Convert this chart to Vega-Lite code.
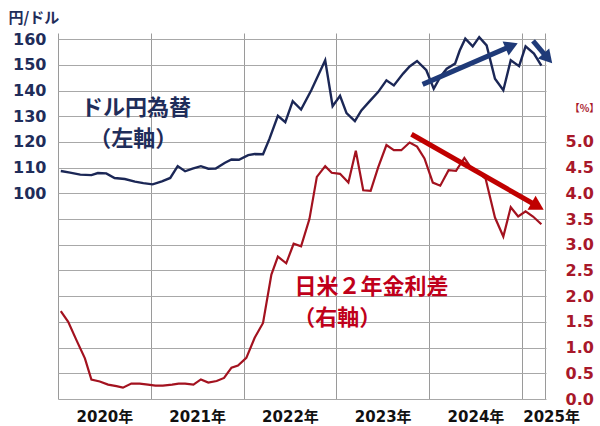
{
  "$schema": "https://vega.github.io/schema/vega-lite/v6.json",
  "width": 488,
  "height": 366,
  "autosize": "none",
  "padding": {"left": 58, "top": 33, "right": 54, "bottom": 27},
  "background": "white",
  "config": {"view": {"stroke": null}, "font": "DejaVu Sans"},
  "datasets": {
    "fx": [
      {"t": 2020.03, "yen": 108.7}, {"t": 2020.13, "yen": 108.1}, {"t": 2020.24, "yen": 107.3}, {"t": 2020.36, "yen": 107.1},
      {"t": 2020.43, "yen": 107.9}, {"t": 2020.52, "yen": 107.8}, {"t": 2020.61, "yen": 106.0}, {"t": 2020.72, "yen": 105.6},
      {"t": 2020.83, "yen": 104.6}, {"t": 2020.92, "yen": 104.0}, {"t": 2021.02, "yen": 103.5}, {"t": 2021.12, "yen": 104.7},
      {"t": 2021.21, "yen": 106.0}, {"t": 2021.29, "yen": 110.6}, {"t": 2021.37, "yen": 108.6}, {"t": 2021.45, "yen": 109.6},
      {"t": 2021.54, "yen": 110.6}, {"t": 2021.62, "yen": 109.6}, {"t": 2021.70, "yen": 109.7}, {"t": 2021.80, "yen": 111.9},
      {"t": 2021.87, "yen": 113.2}, {"t": 2021.95, "yen": 113.1}, {"t": 2022.05, "yen": 114.9}, {"t": 2022.12, "yen": 115.3},
      {"t": 2022.21, "yen": 115.2}, {"t": 2022.28, "yen": 121.3}, {"t": 2022.37, "yen": 130.2}, {"t": 2022.45, "yen": 127.7},
      {"t": 2022.53, "yen": 135.9}, {"t": 2022.62, "yen": 132.6}, {"t": 2022.73, "yen": 140.1}, {"t": 2022.88, "yen": 151.8},
      {"t": 2022.96, "yen": 133.9}, {"t": 2023.04, "yen": 138.0}, {"t": 2023.11, "yen": 131.2}, {"t": 2023.20, "yen": 128.1},
      {"t": 2023.27, "yen": 132.3}, {"t": 2023.36, "yen": 135.9}, {"t": 2023.45, "yen": 139.4}, {"t": 2023.54, "yen": 144.0},
      {"t": 2023.62, "yen": 142.0}, {"t": 2023.72, "yen": 146.6}, {"t": 2023.79, "yen": 149.4}, {"t": 2023.87, "yen": 151.5},
      {"t": 2023.97, "yen": 147.9}, {"t": 2024.05, "yen": 140.7}, {"t": 2024.12, "yen": 145.3}, {"t": 2024.19, "yen": 148.5},
      {"t": 2024.28, "yen": 150.5}, {"t": 2024.33, "yen": 155.6}, {"t": 2024.39, "yen": 160.2}, {"t": 2024.47, "yen": 157.2},
      {"t": 2024.54, "yen": 160.8}, {"t": 2024.62, "yen": 157.6}, {"t": 2024.71, "yen": 144.6}, {"t": 2024.80, "yen": 140.1},
      {"t": 2024.88, "yen": 151.8}, {"t": 2024.97, "yen": 149.5}, {"t": 2025.04, "yen": 157.2}, {"t": 2025.13, "yen": 154.4},
      {"t": 2025.21, "yen": 149.7}
    ],
    "spread": [
      {"t": 2020.03, "pct": 1.71}, {"t": 2020.11, "pct": 1.50}, {"t": 2020.20, "pct": 1.14}, {"t": 2020.29, "pct": 0.79},
      {"t": 2020.36, "pct": 0.38}, {"t": 2020.45, "pct": 0.34}, {"t": 2020.54, "pct": 0.28}, {"t": 2020.63, "pct": 0.25},
      {"t": 2020.70, "pct": 0.22}, {"t": 2020.79, "pct": 0.30}, {"t": 2020.88, "pct": 0.30}, {"t": 2020.97, "pct": 0.28},
      {"t": 2021.05, "pct": 0.26}, {"t": 2021.13, "pct": 0.26}, {"t": 2021.23, "pct": 0.28}, {"t": 2021.30, "pct": 0.30},
      {"t": 2021.37, "pct": 0.30}, {"t": 2021.46, "pct": 0.28}, {"t": 2021.54, "pct": 0.38}, {"t": 2021.62, "pct": 0.32},
      {"t": 2021.71, "pct": 0.35}, {"t": 2021.79, "pct": 0.41}, {"t": 2021.87, "pct": 0.61}, {"t": 2021.94, "pct": 0.65},
      {"t": 2022.03, "pct": 0.80}, {"t": 2022.12, "pct": 1.19}, {"t": 2022.21, "pct": 1.48}, {"t": 2022.30, "pct": 2.42},
      {"t": 2022.37, "pct": 2.77}, {"t": 2022.46, "pct": 2.64}, {"t": 2022.54, "pct": 3.02}, {"t": 2022.62, "pct": 2.97},
      {"t": 2022.71, "pct": 3.50}, {"t": 2022.79, "pct": 4.32}, {"t": 2022.88, "pct": 4.53}, {"t": 2022.95, "pct": 4.40},
      {"t": 2023.04, "pct": 4.38}, {"t": 2023.13, "pct": 4.21}, {"t": 2023.21, "pct": 4.83}, {"t": 2023.29, "pct": 4.06},
      {"t": 2023.37, "pct": 4.05}, {"t": 2023.45, "pct": 4.50}, {"t": 2023.54, "pct": 4.94}, {"t": 2023.62, "pct": 4.84},
      {"t": 2023.70, "pct": 4.84}, {"t": 2023.79, "pct": 4.99}, {"t": 2023.87, "pct": 4.91}, {"t": 2023.95, "pct": 4.68},
      {"t": 2024.04, "pct": 4.21}, {"t": 2024.12, "pct": 4.15}, {"t": 2024.21, "pct": 4.45}, {"t": 2024.29, "pct": 4.44},
      {"t": 2024.38, "pct": 4.69}, {"t": 2024.44, "pct": 4.53}, {"t": 2024.51, "pct": 4.44}, {"t": 2024.61, "pct": 4.28},
      {"t": 2024.71, "pct": 3.53}, {"t": 2024.80, "pct": 3.16}, {"t": 2024.88, "pct": 3.73}, {"t": 2024.96, "pct": 3.55},
      {"t": 2025.04, "pct": 3.65}, {"t": 2025.12, "pct": 3.55}, {"t": 2025.21, "pct": 3.40}
    ],
    "fxArrowShafts": [
      {"id": "b1", "t": 2023.93, "yen": 142.4}, {"id": "b1", "t": 2024.89, "yen": 157.4},
      {"id": "b2", "t": 2025.12, "yen": 159.3}, {"id": "b2", "t": 2025.28, "yen": 152.5}
    ],
    "fxArrowHeads": [
      {"id": "b1", "t": 2024.89, "yen": 157.4},
      {"id": "b2", "t": 2025.28, "yen": 152.5}
    ],
    "spArrowShafts": [
      {"id": "r1", "t": 2023.81, "pct": 5.15}, {"id": "r1", "t": 2025.17, "pct": 3.75}
    ],
    "spArrowHeads": [
      {"id": "r1", "t": 2025.17, "pct": 3.75}
    ],
    "fxLabels": [
      {"t": 2020.84, "yen": 133.1, "text": "ドル円為替"},
      {"t": 2020.81, "yen": 121.3, "text": "（左軸）"}
    ],
    "spLabels": [
      {"t": 2023.378, "pct": 2.17, "text": "日米２年金利差"},
      {"t": 2023.01, "pct": 1.57, "text": "（右軸）"}
    ]
  },
  "encoding": {
    "x": {
      "field": "t", "type": "quantitative",
      "scale": {"domain": [2020, 2025.26], "nice": false, "zero": false},
      "axis": {
        "values": [2020, 2020.5, 2021, 2021.5, 2022, 2022.5, 2023, 2023.5, 2024, 2024.5, 2025, 2025.25],
        "labelExpr": "datum.value % 1 == 0.5 ? floor(datum.value) + '年' : (datum.value > 2025.1 ? '2025年' : '')",
        "labelOffset": {"condition": {"test": "datum.value > 2025.1", "value": 6}, "value": 0},
        "gridOpacity": {"condition": {"test": "datum.value % 1 == 0.5", "value": 0}, "value": 1},
        "grid": true, "gridColor": "#9a9a9a", "gridWidth": 1,
        "domain": false, "ticks": false, "labelFlush": false, "labelOverlap": false,
        "labelPadding": 10, "labelFont": "DejaVu Sans, Noto Sans CJK JP", "labelFontSize": 15, "labelFontWeight": "bold",
        "labelColor": "#111111", "title": null
      }
    }
  },
  "layer": [
    {
      "encoding": {
        "y": {
          "field": "yen", "type": "quantitative",
          "scale": {"domain": [20, 162.4], "nice": false, "zero": false},
          "axis": {
            "orient": "left",
            "values": [20, 30, 40, 50, 60, 70, 80, 90, 100, 110, 120, 130, 140, 150, 160],
            "labelExpr": "datum.value >= 100 ? datum.label : ''",
            "grid": true, "gridColor": "#a8a8a8", "gridWidth": 1,
            "domain": false, "ticks": false, "labelOverlap": false,
            "labelPadding": 12, "labelFont": "DejaVu Sans", "labelFontSize": 16, "labelFontWeight": "bold",
            "labelColor": "#1f2d5a",
            "title": "円/ドル", "titleAngle": 0, "titleAlign": "left", "titleBaseline": "middle",
            "titleX": -50, "titleY": -16, "titleFont": "Noto Sans CJK JP", "titleFontSize": 15,
            "titleFontWeight": "bold", "titleColor": "#1f2d5a"
          }
        }
      },
      "layer": [
        {
          "data": {"name": "fx"},
          "mark": {"type": "line", "color": "#1b2756", "strokeWidth": 2.4}
        },
        {
          "data": {"name": "fxArrowShafts"},
          "mark": {"type": "line", "color": "#1f3a78", "strokeWidth": 5, "strokeCap": "butt"},
          "encoding": {"detail": {"field": "id"}}
        },
        {
          "data": {"name": "fxArrowHeads"},
          "transform": [{"filter": "datum.id == 'b1'"}],
          "mark": {"type": "point", "shape": "triangle-right", "filled": true, "size": 230, "angle": 336.6, "color": "#1f3a78", "opacity": 1}
        },
        {
          "data": {"name": "fxArrowHeads"},
          "transform": [{"filter": "datum.id == 'b2'"}],
          "mark": {"type": "point", "shape": "triangle-right", "filled": true, "size": 230, "angle": 48.5, "color": "#1f3a78", "opacity": 1}
        },
        {
          "data": {"name": "fxLabels"},
          "mark": {"type": "text", "font": "Noto Sans CJK JP", "fontSize": 22, "fontWeight": "bold", "color": "#1f2d5a", "align": "center", "baseline": "middle"},
          "encoding": {"text": {"field": "text"}}
        }
      ]
    },
    {
      "encoding": {
        "y": {
          "field": "pct", "type": "quantitative",
          "scale": {"domain": [0, 7.12], "nice": false, "zero": false},
          "axis": {
            "orient": "right",
            "values": [0, 0.5, 1, 1.5, 2, 2.5, 3, 3.5, 4, 4.5, 5],
            "format": ".1f",
            "grid": false, "domain": false, "ticks": false, "labelOverlap": false,
            "labelPadding": 19, "labelFont": "DejaVu Sans", "labelFontSize": 16, "labelFontWeight": "bold",
            "labelColor": "#a8182a",
            "title": "【%】", "titleAngle": 0, "titleAlign": "center", "titleBaseline": "middle",
            "titleX": 38, "titleY": 75, "titleFont": "Noto Sans CJK JP", "titleFontSize": 10,
            "titleFontWeight": "bold", "titleColor": "#a8182a"
          }
        }
      },
      "layer": [
        {
          "data": {"name": "spread"},
          "mark": {"type": "line", "color": "#a3121f", "strokeWidth": 2.2}
        },
        {
          "data": {"name": "spArrowShafts"},
          "mark": {"type": "line", "color": "#c00000", "strokeWidth": 5, "strokeCap": "butt"},
          "encoding": {"detail": {"field": "id"}}
        },
        {
          "data": {"name": "spArrowHeads"},
          "mark": {"type": "point", "shape": "triangle-right", "filled": true, "size": 260, "angle": 29.7, "color": "#c00000", "opacity": 1}
        },
        {
          "data": {"name": "spLabels"},
          "mark": {"type": "text", "font": "Noto Sans CJK JP", "fontSize": 22, "fontWeight": "bold", "color": "#c0001a", "align": "center", "baseline": "middle"},
          "encoding": {"text": {"field": "text"}}
        }
      ]
    }
  ],
  "resolve": {"scale": {"y": "independent"}, "axis": {"y": "independent"}}
}
